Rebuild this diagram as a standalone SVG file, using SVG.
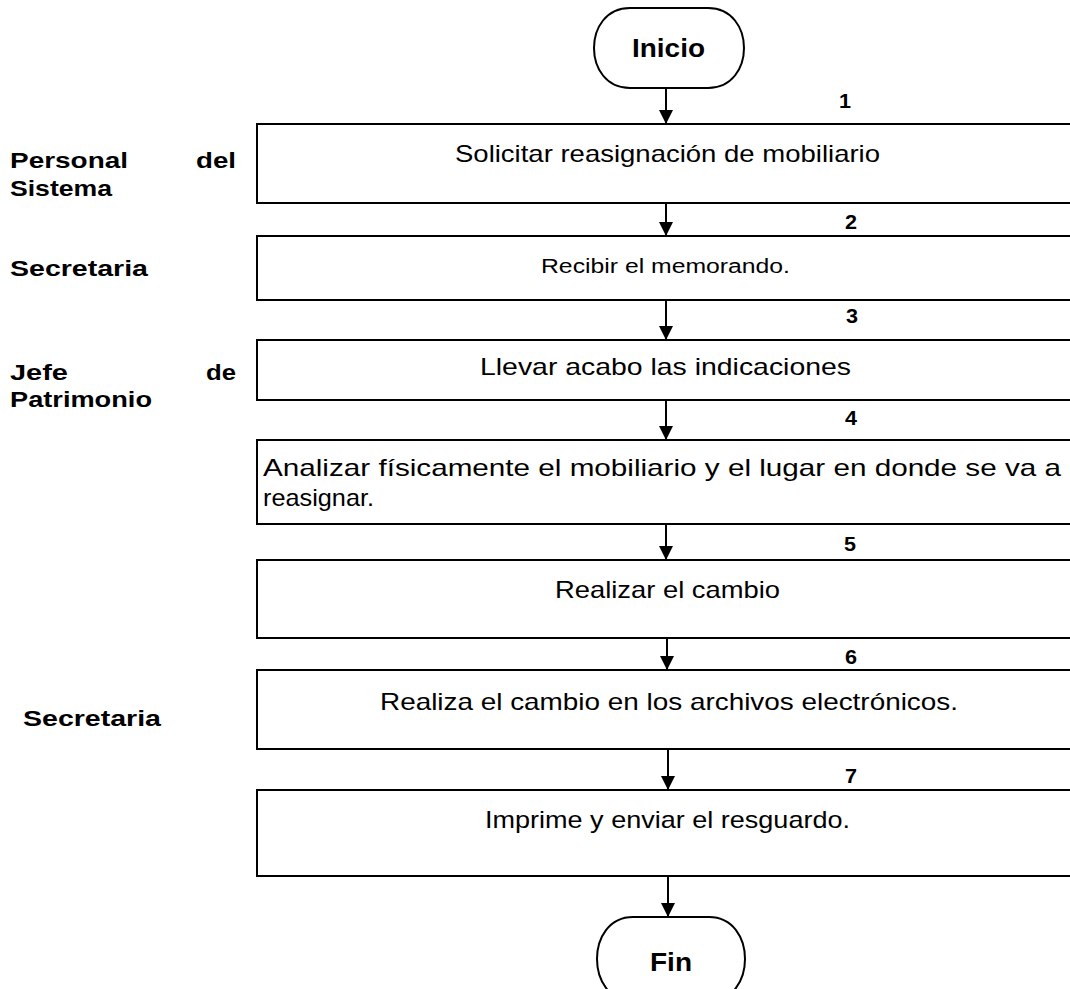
<svg xmlns="http://www.w3.org/2000/svg" width="1070" height="989" viewBox="0 0 1070 989">
<style>
.box{fill:#fff;stroke:#000;stroke-width:2}
.term{fill:#fff;stroke:#000;stroke-width:2}
.t{font-family:"Liberation Sans",Arial,sans-serif;font-size:24px;fill:#000}
.s{font-family:"Liberation Sans",Arial,sans-serif;font-size:20px;fill:#000}
.b{font-family:"Liberation Sans",Arial,sans-serif;font-weight:bold;font-size:22px;fill:#000}
.tm{font-family:"Liberation Sans",Arial,sans-serif;font-weight:bold;font-size:26px;fill:#000}
.n{font-family:"Liberation Sans",Arial,sans-serif;font-weight:bold;font-size:20px;fill:#000}
.c{stroke:#000;stroke-width:2;fill:none}
</style>
<defs>
<marker id="ah" viewBox="0 0 14 14" refX="14" refY="7" markerWidth="14" markerHeight="14" markerUnits="userSpaceOnUse" orient="auto">
<path d="M0,0 L14,7 L0,14 Z" fill="#000"/>
</marker>
</defs>
<rect width="1070" height="989" fill="#fff"/>
<g id="labels">
<text class="b" x="10" y="168" textLength="118" lengthAdjust="spacingAndGlyphs">Personal</text>
<text class="b" x="196" y="168" textLength="40" lengthAdjust="spacingAndGlyphs">del</text>
<text class="b" x="10" y="196" textLength="102" lengthAdjust="spacingAndGlyphs">Sistema</text>
<text class="b" x="10" y="276" textLength="138" lengthAdjust="spacingAndGlyphs">Secretaria</text>
<text class="b" x="10" y="380" textLength="58" lengthAdjust="spacingAndGlyphs">Jefe</text>
<text class="b" x="206" y="380" textLength="30" lengthAdjust="spacingAndGlyphs">de</text>
<text class="b" x="10" y="407" textLength="142" lengthAdjust="spacingAndGlyphs">Patrimonio</text>
<text class="b" x="23" y="726" textLength="138" lengthAdjust="spacingAndGlyphs">Secretaria</text>
</g>
<g id="inicio">
<path class="term" d="M630,8 H708 C756,8 756,88 708,88 H630 C582,88 582,8 630,8 Z"/>
<text class="tm" x="632" y="57" textLength="73" lengthAdjust="spacingAndGlyphs">Inicio</text>
</g>
<g id="step1">
<rect class="box" x="257" y="124" width="830" height="79"/>
<text class="t" x="455" y="162" textLength="425" lengthAdjust="spacingAndGlyphs">Solicitar reasignación de mobiliario</text>
<text class="n" x="839" y="108" textLength="12" lengthAdjust="spacingAndGlyphs">1</text>
</g>
<g id="step2">
<rect class="box" x="257" y="236" width="830" height="64"/>
<text class="s" x="541" y="273" textLength="249" lengthAdjust="spacingAndGlyphs">Recibir el memorando.</text>
<text class="n" x="845" y="229" textLength="12" lengthAdjust="spacingAndGlyphs">2</text>
</g>
<g id="step3">
<rect class="box" x="257" y="340" width="830" height="60"/>
<text class="t" x="480" y="375" textLength="371" lengthAdjust="spacingAndGlyphs">Llevar acabo las indicaciones</text>
<text class="n" x="846" y="323" textLength="12" lengthAdjust="spacingAndGlyphs">3</text>
</g>
<g id="step4">
<rect class="box" x="257" y="440" width="830" height="84"/>
<text class="t" x="263" y="476" textLength="798" lengthAdjust="spacingAndGlyphs">Analizar físicamente el mobiliario y el lugar en donde se va a</text>
<text class="t" x="263" y="506" textLength="111" lengthAdjust="spacingAndGlyphs">reasignar.</text>
<text class="n" x="845" y="425" textLength="12" lengthAdjust="spacingAndGlyphs">4</text>
</g>
<g id="step5">
<rect class="box" x="257" y="560" width="830" height="78"/>
<text class="t" x="555" y="598" textLength="225" lengthAdjust="spacingAndGlyphs">Realizar el cambio</text>
<text class="n" x="844" y="551" textLength="12" lengthAdjust="spacingAndGlyphs">5</text>
</g>
<g id="step6">
<rect class="box" x="257" y="670" width="830" height="79"/>
<text class="t" x="380" y="710" textLength="578" lengthAdjust="spacingAndGlyphs">Realiza el cambio en los archivos electrónicos.</text>
<text class="n" x="845" y="664" textLength="12" lengthAdjust="spacingAndGlyphs">6</text>
</g>
<g id="step7">
<rect class="box" x="257" y="790" width="830" height="86"/>
<text class="t" x="485" y="828" textLength="365" lengthAdjust="spacingAndGlyphs">Imprime y enviar el resguardo.</text>
<text class="n" x="845" y="783" textLength="12" lengthAdjust="spacingAndGlyphs">7</text>
</g>
<g id="fin">
<path class="term" d="M633,917 H709 C757,917 757,1001 709,1001 H633 C585,1001 585,917 633,917 Z"/>
<text class="tm" x="650" y="971" textLength="42" lengthAdjust="spacingAndGlyphs">Fin</text>
</g>
<g id="connectors">
<line class="c" x1="666" y1="88" x2="666" y2="124" marker-end="url(#ah)"/>
<line class="c" x1="666" y1="203" x2="666" y2="236" marker-end="url(#ah)"/>
<line class="c" x1="666" y1="300" x2="666" y2="340" marker-end="url(#ah)"/>
<line class="c" x1="666" y1="400" x2="666" y2="440" marker-end="url(#ah)"/>
<line class="c" x1="666" y1="524" x2="666" y2="560" marker-end="url(#ah)"/>
<line class="c" x1="667" y1="638" x2="667" y2="670" marker-end="url(#ah)"/>
<line class="c" x1="668" y1="749" x2="668" y2="790" marker-end="url(#ah)"/>
<line class="c" x1="668" y1="876" x2="668" y2="917" marker-end="url(#ah)"/>
</g>
</svg>
